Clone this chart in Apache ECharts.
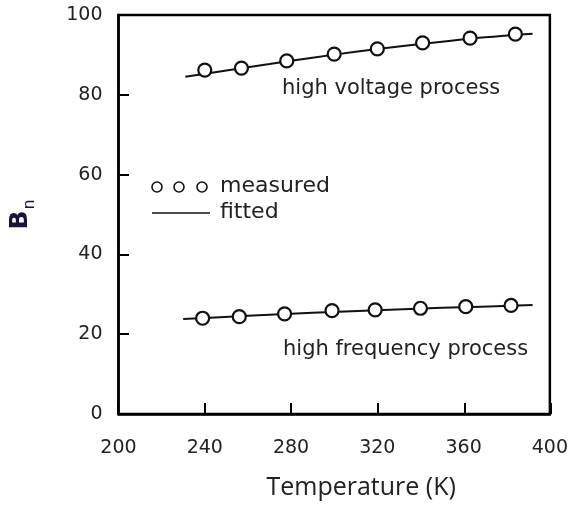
<!DOCTYPE html>
<html>
<head>
<meta charset="utf-8">
<script src="https://cdn.jsdelivr.net/npm/echarts@6/dist/echarts.min.js"></script>
<style>
html,body{margin:0;padding:0;background:#fff;}
#chart{width:571px;height:508px;}
</style>
</head>
<body>
<div id="chart"></div>
<script>
// Tick labels
var xTicks = [200, 240, 280, 320, 360, 400];
var yTicks = [0, 20, 40, 60, 80, 100];

// High voltage process: measured points
var hvTemp = [240, 257, 278, 300, 320, 341, 363, 384];
var hvMeasured = [86.2, 86.7, 88.5, 90.2, 91.5, 93.0, 94.2, 95.2];
// High voltage process: fitted curve
var hvFitTemp = [231, 250, 270, 290, 310, 330, 350, 370, 392];
var hvFitted = [84.5, 86.1, 87.7, 89.3, 90.8, 92.1, 93.3, 94.4, 95.3];

// High frequency process: measured points
var hfTemp = [239, 256, 277, 299, 319, 340, 361, 382];
var hfMeasured = [24.0, 24.4, 25.1, 25.9, 26.1, 26.5, 26.9, 27.2];
// High frequency process: fitted curve
var hfFitTemp = [230, 260, 290, 320, 350, 392];
var hfFitted = [23.8, 24.6, 25.4, 26.0, 26.6, 27.3];

function pairs(xs, ys) { return xs.map(function (x, i) { return [x, ys[i]]; }); }

var chart = echarts.init(document.getElementById('chart'));
var tickFont = { fontFamily: 'DejaVu Sans', fontSize: 19, color: '#222' };
var xMin = xTicks[0], xMax = xTicks[xTicks.length - 1];
var yMin = yTicks[0], yMax = yTicks[yTicks.length - 1];
var TICK = 11;

function hiddenAxis(gridIndex, min, max, interval) {
  return { type: 'value', gridIndex: gridIndex, min: min, max: max, interval: interval,
    axisLine: { show: false }, axisTick: { show: false }, axisLabel: { show: false }, splitLine: { show: false } };
}
function tickAxis(gridIndex, min, max, interval) {
  return { type: 'value', gridIndex: gridIndex, min: min, max: max, interval: interval,
    axisLine: { show: false },
    axisTick: { show: true, length: TICK, lineStyle: { color: '#000', width: 2 } },
    axisLabel: { show: false }, splitLine: { show: false } };
}

var option = {
  animation: false,
  backgroundColor: '#fff',
  grid: [
    { left: 118, right: 20, top: 15, bottom: 94, show: true, borderColor: '#000', borderWidth: 2.5 },
    // helper grids that only carry inward tick marks
    { left: 118 + TICK, right: 20, top: 15, bottom: 94 },
    { left: 118, right: 20, top: 15, bottom: 94 + TICK }
  ],
  xAxis: [{
    type: 'value', gridIndex: 0, min: xMin, max: xMax, interval: 40,
    name: 'Temperature (K)', nameLocation: 'middle', nameGap: 61,
    nameTextStyle: { fontFamily: 'Open Sans', fontSize: 25, color: '#222', padding: [0, 0, 0, 54] },
    axisLine: { show: true, lineStyle: { color: '#000', width: 2.5 } },
    axisTick: { show: false },
    axisLabel: Object.assign({ margin: 25 }, tickFont),
    splitLine: { show: false }
  },
    hiddenAxis(1, xMin, xMax, 40),
    tickAxis(2, xMin, xMax, 40)
  ],
  yAxis: [{
    type: 'value', gridIndex: 0, min: yMin, max: yMax, interval: 20,
    name: '{b|B}{n|n}', nameLocation: 'middle', nameRotate: 90, nameGap: 84,
    nameTextStyle: {
      rich: {
        b: { fontFamily: 'DejaVu Sans', fontWeight: 'bold', fontSize: 25, color: '#15153a', lineHeight: 28 },
        n: { fontFamily: 'DejaVu Sans', fontSize: 16, color: '#15153a', verticalAlign: 'bottom', lineHeight: 16, padding: [0, 0, -3, 1] }
      }
    },
    axisLine: { show: true, lineStyle: { color: '#000', width: 2.5 } },
    axisTick: { show: false },
    axisLabel: Object.assign({ margin: 16, padding: [5, 0, 0, 0] }, tickFont),
    splitLine: { show: false }
  },
    tickAxis(1, yMin, yMax, 20),
    hiddenAxis(2, yMin, yMax, 20)
  ],
  series: [
    { name: 'hv fitted', type: 'line', data: pairs(hvFitTemp, hvFitted), smooth: 0.3, showSymbol: false, lineStyle: { color: '#111', width: 2 }, z: 2 },
    { name: 'hf fitted', type: 'line', data: pairs(hfFitTemp, hfFitted), smooth: 0.3, showSymbol: false, lineStyle: { color: '#111', width: 2 }, z: 2 },
    { name: 'hv measured', type: 'scatter', data: pairs(hvTemp, hvMeasured), symbol: 'circle', symbolSize: 13, itemStyle: { color: '#fff', opacity: 1, borderColor: '#111', borderWidth: 2.2 }, z: 3 },
    { name: 'hf measured', type: 'scatter', data: pairs(hfTemp, hfMeasured), symbol: 'circle', symbolSize: 13, itemStyle: { color: '#fff', opacity: 1, borderColor: '#111', borderWidth: 2.2 }, z: 3 }
  ],
  graphic: [
    { type: 'circle', shape: { cx: 157, cy: 187, r: 5 }, style: { fill: '#fff', stroke: '#111', lineWidth: 1.6 } },
    { type: 'circle', shape: { cx: 179, cy: 187, r: 5 }, style: { fill: '#fff', stroke: '#111', lineWidth: 1.6 } },
    { type: 'circle', shape: { cx: 202, cy: 187, r: 5 }, style: { fill: '#fff', stroke: '#111', lineWidth: 1.6 } },
    { type: 'text', x: 220, y: 186, style: { text: 'measured', fontFamily: 'DejaVu Sans', fontSize: 22, fill: '#222', verticalAlign: 'middle' } },
    { type: 'line', shape: { x1: 152, y1: 213, x2: 210, y2: 213 }, style: { stroke: '#111', lineWidth: 1.6 } },
    { type: 'text', x: 220, y: 212, style: { text: 'fitted', fontFamily: 'DejaVu Sans', fontSize: 22, fill: '#222', verticalAlign: 'middle' } },
    { type: 'text', x: 282, y: 89, style: { text: 'high voltage process', fontFamily: 'DejaVu Sans', fontSize: 21, fill: '#222', verticalAlign: 'middle' } },
    { type: 'text', x: 283, y: 350, style: { text: 'high frequency process', fontFamily: 'DejaVu Sans', fontSize: 21, fill: '#222', verticalAlign: 'middle' } }
  ]
};
chart.setOption(option);
</script>
</body>
</html>
